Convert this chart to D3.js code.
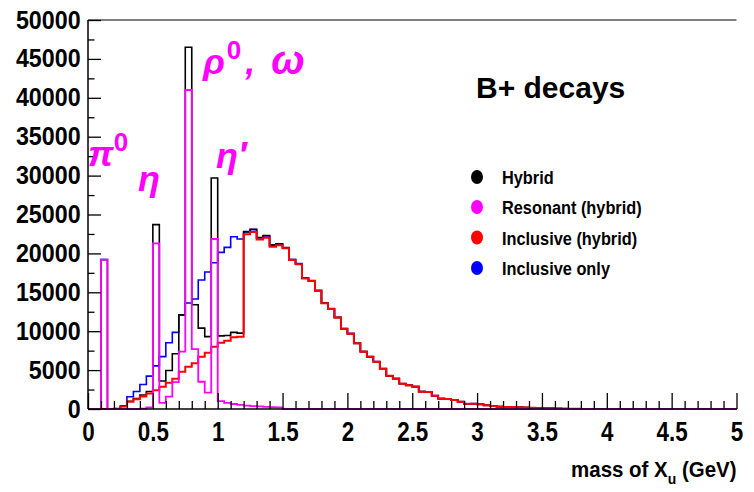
<!DOCTYPE html>
<html>
<head>
<meta charset="utf-8">
<script src="https://cdn.jsdelivr.net/npm/d3@7"></script>
<style>
  html, body { margin: 0; padding: 0; background: #fff; }
  svg { display: block; }
  text { font-family: "Liberation Sans", Arial, sans-serif; font-weight: bold; }
</style>
</head>
<body>
<svg id="chart" width="754" height="492"></svg>
<script>
// Histogram binning of the X_u mass axis (GeV)
const xMin = 0, xMax = 5, binWidth = 0.05;

// Events per bin, 100 bins of 0.05 GeV
const hybrid = [
  0, 0, 19200, 0, 60, 350, 1000, 1350, 1800, 2250,
  23700, 3600, 4950, 7100, 12100, 46500, 13400, 10400, 9300, 29700,
  9400, 9450, 9850, 9750, 22800, 23100, 22050, 22300, 21100, 21250,
  20750, 19200, 18650, 16800, 16450, 15200, 13600, 12850, 11750, 10300,
  9680, 8440, 7370, 6700, 6080, 5180, 4260, 3900, 3250, 3040,
  2870, 2230, 2180, 1710, 1330, 1300, 1160, 940, 670, 680,
  600, 470, 390, 300, 260, 250, 230, 190, 150, 120,
  100, 80, 60, 40, 30, 20, 15, 10, 8, 5,
  4, 3, 3, 2, 2, 1, 1, 1, 0, 0,
  0, 0, 0, 0, 0, 0, 0, 0, 0, 0
];
const resonant = [
  0, 0, 19200, 0, 0, 0, 0, 0, 50, 200,
  21300, 800, 1580, 3450, 7370, 41000, 7700, 3500, 2100, 21850,
  1000, 800, 640, 520, 430, 380, 330, 280, 240, 200,
  0, 0, 0, 0, 0, 0, 0, 0, 0, 0,
  0, 0, 0, 0, 0, 0, 0, 0, 0, 0,
  0, 0, 0, 0, 0, 0, 0, 0, 0, 0,
  0, 0, 0, 0, 0, 0, 0, 0, 0, 0,
  0, 0, 0, 0, 0, 0, 0, 0, 0, 0,
  0, 0, 0, 0, 0, 0, 0, 0, 0, 0,
  0, 0, 0, 0, 0, 0, 0, 0, 0, 0
];
const inclusiveHybrid = [
  0, 0, 0, 0, 0, 320, 940, 1240, 1600, 2000,
  2400, 2850, 3380, 3900, 4800, 5440, 5870, 6730, 7240, 8010,
  8500, 8780, 9210, 9290, 22450, 22750, 21780, 22020, 20870, 21050,
  20650, 19150, 18600, 16780, 16440, 15190, 13600, 12850, 11750, 10300,
  9680, 8440, 7370, 6700, 6080, 5180, 4260, 3900, 3250, 3040,
  2870, 2230, 2180, 1710, 1330, 1300, 1160, 940, 670, 680,
  600, 470, 390, 300, 260, 250, 230, 190, 150, 120,
  100, 80, 60, 40, 30, 20, 15, 10, 8, 5,
  4, 3, 3, 2, 2, 1, 1, 1, 0, 0,
  0, 0, 0, 0, 0, 0, 0, 0, 0, 0
];
const inclusiveOnly = [
  0, 0, 0, 0, 0, 400, 1580, 2240, 3150, 4220,
  5540, 6730, 8520, 9850, 12080, 13620, 14130, 16580, 17600, 18800,
  20130, 20770, 22140, 21850, 22750, 23050, 22000, 22250, 21050, 21200,
  20700, 19200, 18700, 16850, 16500, 15250, 13650, 12900, 11800, 10350,
  9720, 8480, 7400, 6730, 6100, 5200, 4280, 3920, 3270, 3060,
  2880, 2240, 2190, 1720, 1340, 1310, 1170, 950, 680, 690,
  610, 480, 395, 305, 265, 255, 235, 195, 155, 125,
  105, 82, 62, 42, 31, 21, 16, 11, 8, 5,
  4, 3, 3, 2, 2, 1, 1, 1, 0, 0,
  0, 0, 0, 0, 0, 0, 0, 0, 0, 0
];

// Axis tick labels
const xTickLabels = ["0", "0.5", "1", "1.5", "2", "2.5", "3", "3.5", "4", "4.5", "5"];
const yTickLabels = ["0", "5000", "10000", "15000", "20000", "25000", "30000", "35000", "40000", "45000", "50000"];

// Legend entries
const legendLabels = ["Hybrid", "Resonant (hybrid)", "Inclusive (hybrid)", "Inclusive only"];
const seriesColors = ["#000000", "#ff00ff", "#ff0000", "#0000ff"];

const svg = d3.select("#chart");
const frame = { left: 88, right: 736.5, top: 20, bottom: 409 };

const x = d3.scaleLinear().domain([xMin, xMax]).range([frame.left, frame.right]);
const y = d3.scaleLinear().domain([0, 50000]).range([frame.bottom, frame.top]);

// Step outline of a histogram, starting and ending on the baseline
function histPath(values) {
  const pts = [[xMin, 0]];
  values.forEach((v, i) => pts.push([xMin + i * binWidth, v]));
  pts.push([xMax, values[values.length - 1]]);
  pts.push([xMax, 0]);
  return d3.line()
    .x(d => x(d[0]))
    .y(d => y(d[1]))
    .curve(d3.curveStepAfter)(pts);
}

// Drawing order: inclusive only, hybrid, inclusive (hybrid), resonant on top
const drawOrder = [
  { values: inclusiveOnly, color: "#0000ff", width: 1.6 },
  { values: hybrid, color: "#000000", width: 1.6 },
  { values: inclusiveHybrid, color: "#ff0000", width: 2 },
  { values: resonant, color: "#ff00ff", width: 1.8 }
];
const plot = svg.append("g");
drawOrder.forEach(s => {
  plot.append("path")
    .attr("d", histPath(s.values))
    .attr("fill", "none")
    .attr("stroke", s.color)
    .attr("stroke-width", s.width)
    .attr("stroke-linejoin", "miter");
});

// Axes (ROOT style: ticks pointing into the frame)
const yMajor = d3.range(0, 50001, 5000);
const yMinor = d3.range(2500, 50000, 5000);
const xMajor = d3.range(0, 5.0001, 0.5);
const xMinor = d3.range(0, 5.0001, 0.1).filter(v => Math.abs(v * 2 - Math.round(v * 2)) > 1e-6);

const yAxis = svg.append("g")
  .attr("transform", `translate(${frame.left},0)`)
  .call(d3.axisLeft(y).tickValues(yMajor).tickSize(-13).tickPadding(8)
    .tickFormat((d, i) => yTickLabels[i]));
yAxis.select(".domain").remove();
yAxis.selectAll("text")
  .attr("font-size", 25)
  .attr("font-family", "Liberation Sans, Arial, sans-serif")
  .attr("transform", "scale(0.93,1)");
yAxis.selectAll("line").attr("stroke", "#000").attr("stroke-width", 1.3);

const yAxisMinor = svg.append("g")
  .attr("transform", `translate(${frame.left},0)`)
  .call(d3.axisLeft(y).tickValues(yMinor).tickSize(-6.5).tickFormat(""));
yAxisMinor.select(".domain").remove();
yAxisMinor.selectAll("line").attr("stroke", "#000").attr("stroke-width", 1.3);

const xAxis = svg.append("g")
  .attr("transform", `translate(0,${frame.bottom})`)
  .call(d3.axisBottom(x).tickValues(xMajor).tickSize(-16).tickPadding(12)
    .tickFormat((d, i) => xTickLabels[i]));
xAxis.select(".domain").remove();
xAxis.selectAll("text")
  .attr("font-size", 28)
  .attr("font-family", "Liberation Sans, Arial, sans-serif")
  .attr("transform", "scale(0.8,1)");
xAxis.selectAll("line").attr("stroke", "#000").attr("stroke-width", 1.3);

const xAxisMinor = svg.append("g")
  .attr("transform", `translate(0,${frame.bottom})`)
  .call(d3.axisBottom(x).tickValues(xMinor).tickSize(-8).tickFormat(""));
xAxisMinor.select(".domain").remove();
xAxisMinor.selectAll("line").attr("stroke", "#000").attr("stroke-width", 1.3);

// Frame lines
svg.append("line").attr("x1", frame.left).attr("x2", frame.left)
  .attr("y1", frame.top).attr("y2", frame.bottom)
  .attr("stroke", "#000").attr("stroke-width", 1.5);
svg.append("line").attr("x1", frame.left).attr("x2", frame.right)
  .attr("y1", frame.bottom).attr("y2", frame.bottom)
  .attr("stroke", "#000").attr("stroke-width", 1.5);
svg.append("line").attr("x1", frame.left).attr("x2", frame.right)
  .attr("y1", frame.top).attr("y2", frame.top)
  .attr("stroke", "#000").attr("stroke-width", 1.2);

// Axis title
const xTitle = svg.append("text")
  .attr("transform", `translate(${frame.right},477) scale(0.93,1)`)
  .attr("text-anchor", "end")
  .attr("font-size", 22);
xTitle.append("tspan").text("mass of X");
xTitle.append("tspan").attr("font-size", 15).attr("dy", 7).text("u");
xTitle.append("tspan").attr("dy", -7).text(" (GeV)");

// Title inside the frame
svg.append("text")
  .attr("x", 476).attr("y", 98)
  .attr("font-size", 30)
  .text("B+ decays");

// Legend
const legend = svg.append("g");
const legendY = [177, 207, 237.5, 268];
legendLabels.forEach((lab, i) => {
  legend.append("ellipse")
    .attr("cx", 477).attr("cy", legendY[i])
    .attr("rx", 6).attr("ry", 7)
    .attr("fill", seriesColors[i]);
  legend.append("text")
    .attr("transform", `translate(502,${legendY[i] + 7}) scale(0.86,1)`)
    .attr("font-size", 19)
    .text(lab);
});

// Resonance annotations
const greek = svg.append("g")
  .attr("fill", "#ff00ff")
  .style("font-family", "'DejaVu Serif', serif")
  .style("font-style", "italic")
  .style("font-weight", "bold");
function annot(xp, yp, parts) {
  const t = greek.append("text").attr("x", xp).attr("y", yp).attr("font-size", 36);
  parts.forEach(p => {
    const s = t.append("tspan").text(p.text);
    if (p.sup) s.attr("font-size", 26).attr("dy", -15).style("font-style", "normal");
    if (p.back) s.attr("dy", 15);
    if (p.dx) s.attr("dx", p.dx);
    if (p.size) s.attr("font-size", p.size);
  });
}
annot(88, 166, [{ text: "π" }, { text: "0", sup: true }]);
annot(138, 191, [{ text: "η" }]);
annot(203, 74, [{ text: "ρ" }, { text: "0", sup: true, dx: 2 }, { text: ",", back: true, dx: 4 }, { text: "ω", dx: 16, size: 40 }]);
annot(216, 168, [{ text: "η′" }]);
</script>
</body>
</html>
